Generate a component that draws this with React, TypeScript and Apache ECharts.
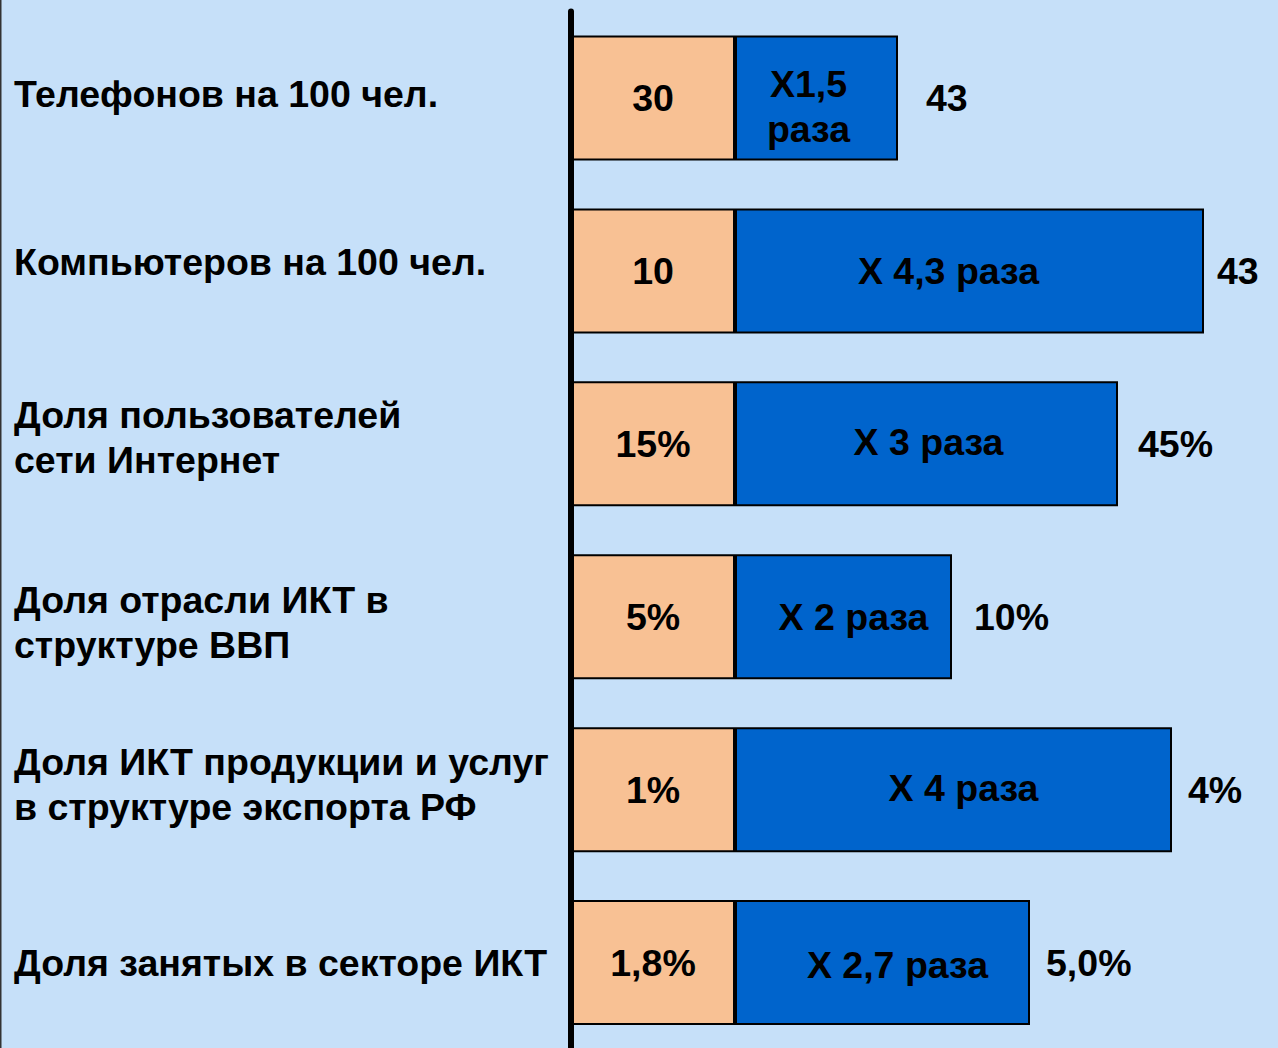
import React, { useEffect, useRef } from "react";
import * as echarts from "echarts";

const categories = [
  "Телефонов на 100 чел.",
  "Компьютеров на 100 чел.",
  "Доля пользователей\nсети Интернет",
  "Доля отрасли ИКТ в\nструктуре ВВП",
  "Доля ИКТ продукции и услуг\nв структуре экспорта РФ",
  "Доля занятых в секторе ИКТ",
];
const baseLabels = ["30", "10", "15%", "5%", "1%", "1,8%"];
const growthLabels = ["X1,5\nраза", "X 4,3 раза", "X 3 раза", "X 2 раза", "X 4 раза", "X 2,7 раза"];
const currentLabels = ["43", "43", "45%", "10%", "4%", "5,0%"];
// schematic bar lengths as drawn (arbitrary units)
const baseLengths = [1.64, 1.64, 1.64, 1.64, 1.64, 1.64];
const growthLengths = [1.63, 4.69, 3.83, 2.17, 4.37, 2.95];

// label placement tweaks (style only): positive = move up
const catShiftUp = [4, 9, 6, -6, 5, 0];
const growthOffset = [[-8, 9], [-21, 0], [2, -2], [10, 0], [10, -2], [15, 2]];
const outerGap = [28, 13, 20, 22, 16, 16];

const FONT = "'Liberation Sans', Arial, sans-serif";
const FS = 37.5;
const LH = 45;

export default function App() {
  const ref = useRef<HTMLDivElement>(null);
  useEffect(() => {
    document.body.style.margin = "0";
    const chart = echarts.init(ref.current!, null, { renderer: "svg" });
    const textBase = { fontFamily: FONT, fontSize: FS, fontWeight: "bold" as const, color: "#000" };
    const rich: Record<string, any> = {};
    catShiftUp.forEach((s, i) => {
      rich["t" + i] = { ...textBase, lineHeight: LH, padding: s >= 0 ? [0, 0, 2 * s, 0] : [-2 * s, 0, 0, 0] };
    });
    chart.setOption({
      animation: false,
      backgroundColor: "#c6e0f9",
      grid: {
        left: 571,
        right: 7,
        top: 11.5,
        bottom: -1,
        containLabel: false,
        outerBoundsMode: "none",
      },
      xAxis: { type: "value", min: 0, max: 7, show: false },
      yAxis: {
        type: "category",
        inverse: true,
        z: 10,
        data: categories,
        axisLine: { show: true, lineStyle: { color: "#000", width: 6, cap: "round" } },
        axisTick: { show: false },
        splitLine: { show: false },
        axisLabel: {
          ...textBase,
          align: "left",
          margin: 557,
          lineHeight: LH,
          rich,
          formatter: (value: string, index: number) =>
            value
              .split("\n")
              .map((l) => `{t${index}|${l}}`)
              .join("\n"),
        },
      },
      graphic: [
        { type: "rect", shape: { x: 0, y: 0, width: 1.5, height: 1048 }, style: { fill: "#333" }, z: 20 },
      ],
      series: [
        {
          type: "bar",
          stack: "s",
          barWidth: 125,
          data: baseLengths,
          itemStyle: { color: "#f8c194", borderColor: "#000", borderWidth: 2 },
          label: {
            show: true,
            position: "inside",
            ...textBase,
            formatter: (p: any) => baseLabels[p.dataIndex],
          },
        },
        {
          type: "bar",
          stack: "s",
          barWidth: 125,
          data: growthLengths.map((v, i) => ({
            value: v,
            label: { offset: growthOffset[i] },
          })),
          itemStyle: { color: "#0064cc", borderColor: "#000", borderWidth: 2 },
          label: {
            show: true,
            position: "inside",
            ...textBase,
            lineHeight: LH,
            formatter: (p: any) => growthLabels[p.dataIndex],
          },
        },
        {
          type: "bar",
          stack: "s",
          barWidth: 125,
          data: growthLengths.map((_, i) => ({
            value: 0,
            label: { distance: outerGap[i] },
          })),
          itemStyle: { color: "transparent", borderWidth: 0 },
          label: {
            show: true,
            position: "right",
            ...textBase,
            formatter: (p: any) => currentLabels[p.dataIndex],
          },
        },
      ],
    });
    return () => chart.dispose();
  }, []);
  return (
    <div
      ref={ref}
      style={{ position: "absolute", left: 0, top: 0, width: 1278, height: 1048 }}
    />
  );
}
